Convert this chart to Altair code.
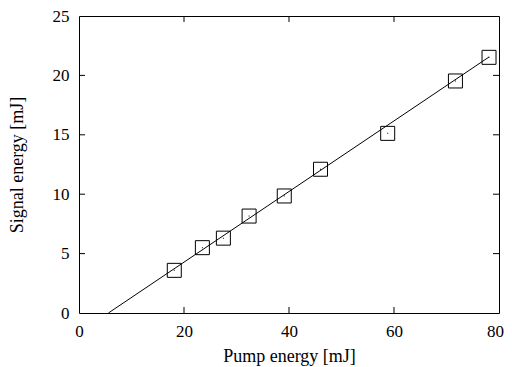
import altair as alt
import pandas as pd

# Data
pump = [18.15, 23.5, 27.5, 32.4, 39.1, 46.0, 58.8, 71.7, 78.1]
signal = [3.59, 5.5, 6.3, 8.16, 9.85, 12.1, 15.12, 19.53, 21.52]
fit_x = [5.6, 78.1]
fit_y = [0.0, 21.55]
x_ticks = [0, 20, 40, 60, 80]
y_ticks = [0, 5, 10, 15, 20, 25]
x_inner = [20, 40, 60]
y_inner = [5, 10, 15, 20]

W, H = 420, 297
FONT = "Liberation Serif"
TL = 6  # inner tick length

pts = pd.DataFrame({"x": pump, "y": signal})
fit = pd.DataFrame({"x": fit_x, "y": fit_y})
xt = pd.DataFrame({"x": x_inner})
yt = pd.DataFrame({"y": y_inner})

xs = alt.Scale(domain=[0, 80], nice=False, zero=False)
ys = alt.Scale(domain=[0, 25], nice=False, zero=False)

xax = alt.Axis(values=x_ticks, ticks=False, domain=False, grid=False, labelFlush=False,
               labelOffset={"expr": "datum.value == 80 ? -4 : 0"},
               labelFont=FONT, labelFontSize=17, labelPadding=10, labelColor="black",
               title="Pump energy [mJ]", titleFont=FONT, titleFontSize=18,
               titleFontWeight="normal", titleColor="black", titlePadding=8)
yax = alt.Axis(values=y_ticks, ticks=False, domain=False, grid=False, labelFlush=False,
               labelFont=FONT, labelFontSize=17, labelPadding=10, labelColor="black",
               title="Signal energy [mJ]", titleFont=FONT, titleFontSize=18,
               titleFontWeight="normal", titleColor="black", titlePadding=26)

line = alt.Chart(fit).mark_line(color="black", strokeWidth=1).encode(
    x=alt.X("x:Q", scale=xs, axis=xax),
    y=alt.Y("y:Q", scale=ys, axis=yax),
)
squares = alt.Chart(pts).mark_point(shape="square", size=196, filled=False,
                                    color="black", strokeWidth=1, opacity=1).encode(
    x=alt.X("x:Q", scale=xs), y=alt.Y("y:Q", scale=ys))
dots = alt.Chart(pts).mark_point(shape="square", size=1, filled=True,
                                 color="black", opacity=1).encode(
    x=alt.X("x:Q", scale=xs), y=alt.Y("y:Q", scale=ys))

tick_style = dict(color="black", strokeWidth=1)
bt = alt.Chart(xt).mark_rule(**tick_style).encode(
    x=alt.X("x:Q", scale=xs), y=alt.value(H), y2=alt.value(H - TL))
tt = alt.Chart(xt).mark_rule(**tick_style).encode(
    x=alt.X("x:Q", scale=xs), y=alt.value(0), y2=alt.value(TL))
lt = alt.Chart(yt).mark_rule(**tick_style).encode(
    y=alt.Y("y:Q", scale=ys), x=alt.value(0), x2=alt.value(TL))
rt = alt.Chart(yt).mark_rule(**tick_style).encode(
    y=alt.Y("y:Q", scale=ys), x=alt.value(W), x2=alt.value(W - TL))

chart = alt.layer(line, bt, tt, lt, rt, squares, dots).properties(
    width=W, height=H,
    background="white",
    autosize=alt.AutoSizeParams(type="none"),
    padding={"left": 71, "top": 8, "right": 5, "bottom": 54},
).configure_view(stroke="black", strokeWidth=1)

chart.save("out.html", embed_options={"renderer": "svg", "actions": False})
